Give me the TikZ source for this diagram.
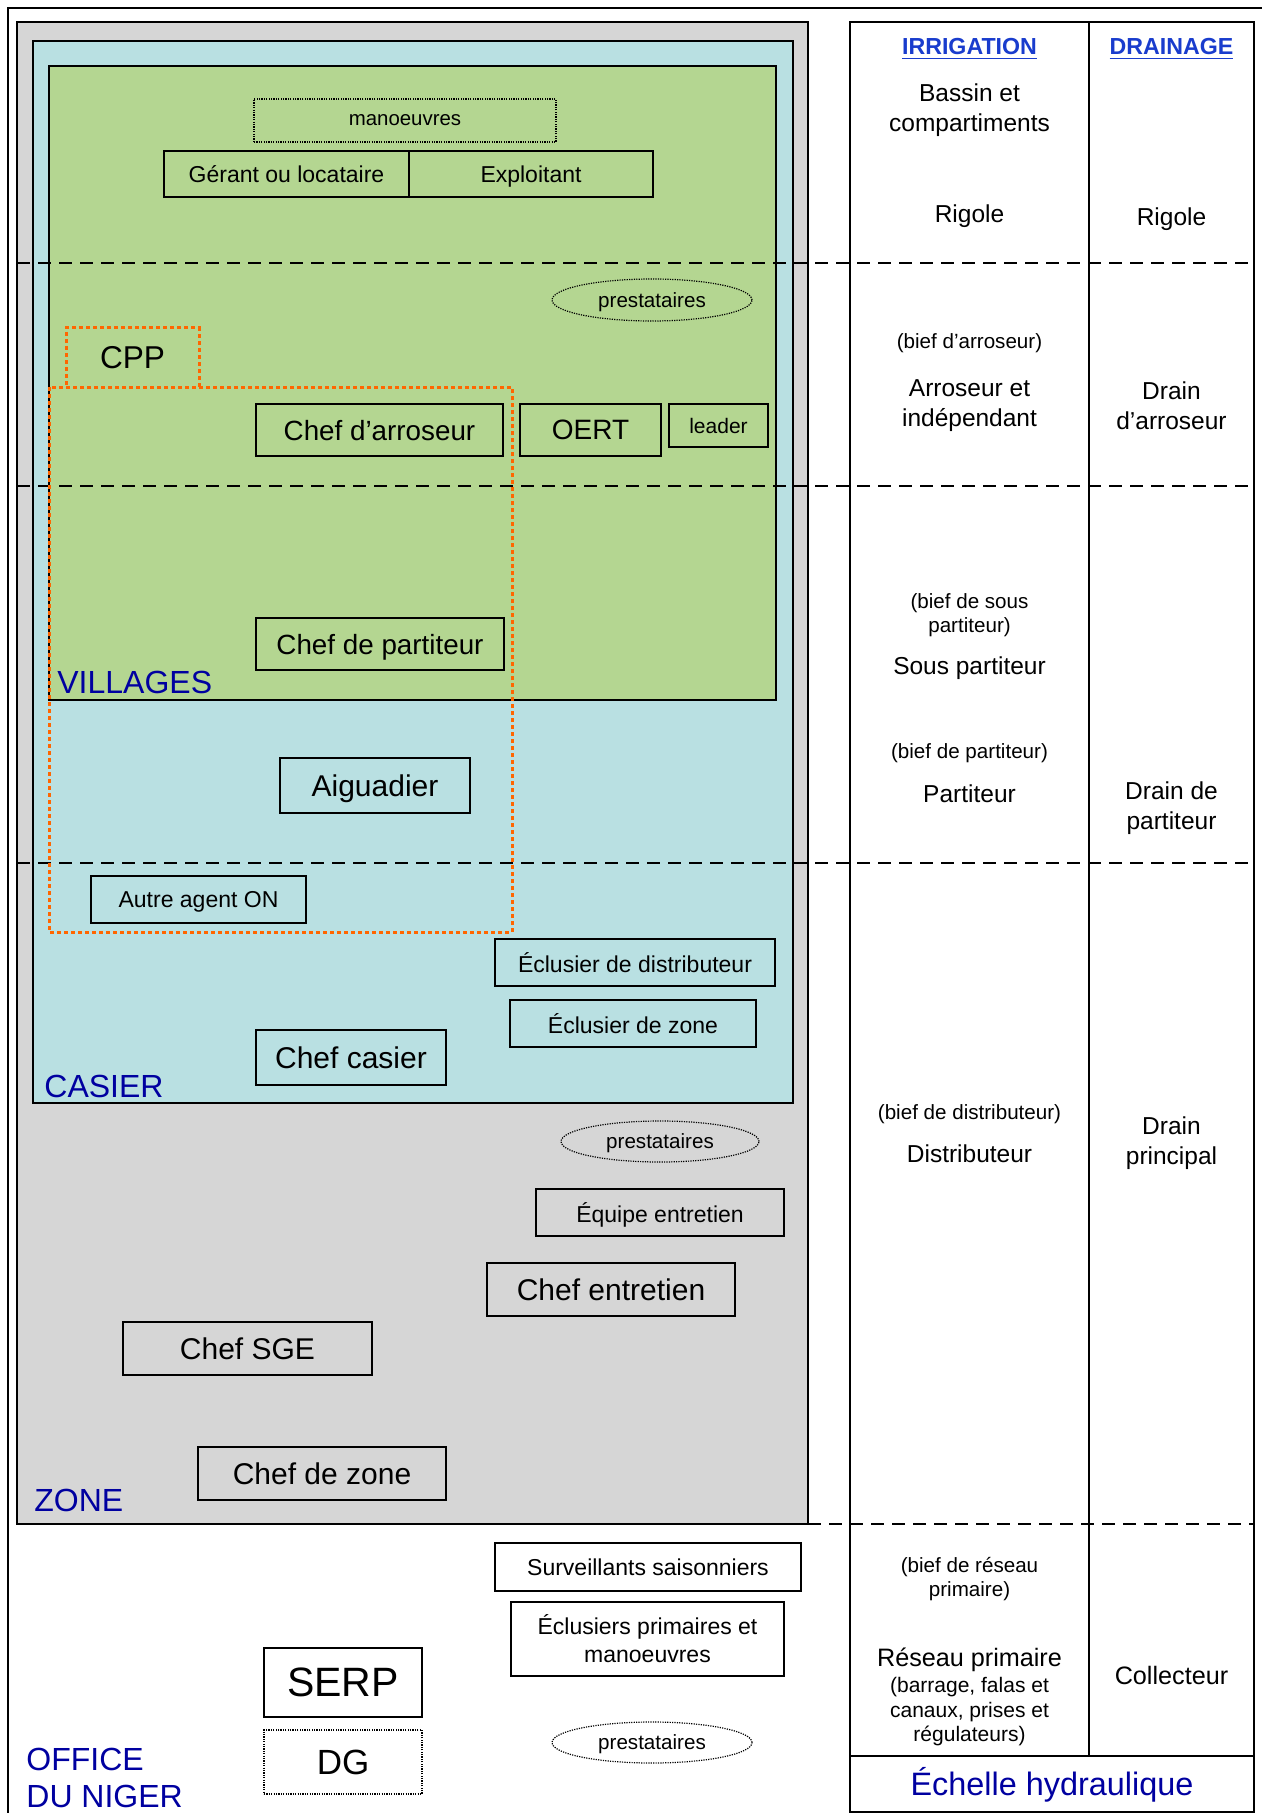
\documentclass[tikz,border=0pt]{standalone}
\usepackage{fontspec}
\setmainfont{Liberation Sans}
\usetikzlibrary{shapes.geometric}

\definecolor{zonegray}{RGB}{214,214,214}
\definecolor{casiercyan}{RGB}{185,224,226}
\definecolor{villagegreen}{RGB}{180,214,145}
\definecolor{cppor}{RGB}{255,102,0}
\definecolor{labelblue}{RGB}{0,0,160}
\definecolor{headblue}{RGB}{25,60,205}

\newcommand{\sz}[2]{\fontsize{#1pt}{#2pt}\selectfont}

\tikzset{
  dim/.style 2 args={minimum width=#1, minimum height=#2},
  box/.style={draw, line width=0.9pt, inner sep=1pt, text depth=0pt, align=center},
  dotbox/.style={draw, line width=0.6pt, dash pattern=on 0.6pt off 0.6pt, inner sep=1pt, text depth=0pt, align=center},
  oval/.style={ellipse, draw, line width=0.6pt, dash pattern=on 0.6pt off 0.6pt, inner sep=0pt, text depth=0pt, font=\sz{10.3}{12}},
  cppline/.style={draw=cppor, line width=1.5pt, dash pattern=on 2pt off 1.5pt},
  levelline/.style={line width=1.4pt, dash pattern=on 6.5pt off 4pt},
  zonelabel/.style={text=labelblue, inner sep=0pt, font=\sz{16}{18.5}},
  colhead/.style={anchor=base, inner sep=0pt, text=headblue, font=\bfseries\sz{11.6}{14}},
  coltext/.style={align=center, inner sep=0pt, font=\sz{12.25}{15}},
  colsmall/.style={align=center, inner sep=0pt, font=\sz{10.3}{12.3}},
}

\begin{document}
\begin{tikzpicture}[x=0.5pt,y=-0.5pt]
\useasboundingbox (0,0) rectangle (1262,1813);

\draw[line width=0.6pt] (8,1813) -- (8,8) -- (1262,8);

\filldraw[fill=zonegray, line width=0.9pt] (17,22) rectangle (808,1524);
\filldraw[fill=casiercyan, line width=0.9pt] (33,41) rectangle (793,1103);
\filldraw[fill=villagegreen, line width=0.9pt] (49,66) rectangle (776,700);

\draw[line width=1pt] (850,22) rectangle (1254,1812);
\draw[line width=1pt] (1089,22) -- (1089,1756);
\draw[line width=1pt] (850,1756) -- (1254,1756);

\draw[levelline] (17,263) -- (1254,263);
\draw[levelline] (17,486) -- (1254,486);
\draw[levelline] (17,863) -- (1254,863);
\draw[levelline] (808,1524) -- (1254,1524);

\node[cppline, dim={66.5pt}{29.5pt}, font=\sz{15.8}{18}] (cpp) at (132.5,357.5) {CPP};
\draw[cppline] (49,387) rectangle (512,932);

\node[dotbox, dim={151pt}{21.5pt}, font=\sz{10.2}{12}] (manoeuvres) at (405,120.5) {manoeuvres};
\node[box, dim={122.5pt}{23pt}, font=\sz{11.5}{14}] (gerant) at (286.5,174) {Gérant ou locataire};
\node[box, dim={122pt}{23pt}, font=\sz{11.5}{14}] (exploitant) at (531,174) {Exploitant};
\node[oval, dim={100pt}{21pt}] (prestvillage) at (652,300) {prestataires};
\node[box, dim={123.5pt}{26pt}, font=\sz{13.9}{16}] (chefarr) at (379.5,430) {Chef d’arroseur};
\node[box, dim={70.5pt}{26pt}, font=\sz{14}{16}] (oert) at (590.5,430) {OERT};
\node[box, dim={49.5pt}{21.5pt}, font=\sz{10.5}{12}] (leader) at (718.5,425.5) {leader};
\node[box, dim={124pt}{26pt}, font=\sz{13.9}{16}] (chefpart) at (380,644) {Chef de partiteur};
\node[zonelabel, anchor=base west] (villages) at (57,693) {VILLAGES};

\node[box, dim={95pt}{27.5pt}, font=\sz{15}{17}] (aiguadier) at (375,785.5) {Aiguadier};
\node[box, dim={107.5pt}{23.5pt}, font=\sz{11.5}{14}] (autre) at (198.5,899.5) {Autre agent ON};
\node[box, dim={140pt}{23.5pt}, font=\sz{11.5}{14}] (ecldist) at (635,962.5) {Éclusier de distributeur};
\node[box, dim={123pt}{23.5pt}, font=\sz{11.5}{14}] (eclzone) at (633,1023.5) {Éclusier de zone};
\node[box, dim={95pt}{27.5pt}, font=\sz{15}{17}] (chefcas) at (351,1057.5) {Chef casier};
\node[zonelabel, anchor=base west] (casier) at (44,1097) {CASIER};

\node[oval, dim={99pt}{20.5pt}] (prestzone) at (660,1141.5) {prestataires};
\node[box, dim={124pt}{23.5pt}, font=\sz{11.5}{14}] (equipe) at (660,1212.5) {Équipe entretien};
\node[box, dim={124pt}{26.5pt}, font=\sz{15}{17}] (chefent) at (611,1289.5) {Chef entretien};
\node[box, dim={124.5pt}{26.5pt}, font=\sz{15}{17}] (chefsge) at (247.5,1348.5) {Chef SGE};
\node[box, dim={124pt}{26.5pt}, font=\sz{15}{17}] (chefzone) at (322,1473.5) {Chef de zone};
\node[zonelabel, anchor=base west] (zone) at (34,1511) {ZONE};

\node[box, dim={153pt}{24pt}, font=\sz{11.5}{14}] (surv) at (648,1567) {Surveillants saisonniers};
\node[box, dim={136.5pt}{37pt}, font=\sz{11.5}{14}] (eclprim) at (647.5,1639) {Éclusiers primaires et\\manoeuvres};
\node[oval, dim={100pt}{20.5pt}] (prestoffice) at (652,1742.5) {prestataires};
\node[box, dim={79pt}{34.5pt}, font=\sz{20.5}{23}] (serp) at (343,1682.5) {SERP};
\node[dotbox, dim={79pt}{32pt}, font=\sz{17.5}{20}] (dg) at (343,1762) {DG};
\node[zonelabel, anchor=north west, align=left] (office) at (26,1748) {OFFICE\\DU NIGER};

\node[colhead] (irrhead) at (969.5,55) {\underline{IRRIGATION}};
\node[colhead] (drhead) at (1171.5,55) {\underline{DRAINAGE}};
\node[coltext] (bassin) at (969.5,110) {Bassin et\\compartiments};
\node[coltext, anchor=base] (rigirr) at (969.5,223) {Rigole};
\node[coltext, anchor=base] (rigdr) at (1171.5,226) {Rigole};
\node[colsmall] (biefarr) at (969.5,343.5) {(bief d’arroseur)};
\node[coltext] (arroseur) at (969.5,405.5) {Arroseur et\\indépendant};
\node[coltext] (drainarr) at (1171.5,405.5) {Drain\\d’arroseur};
\node[colsmall] (biefsous) at (969.5,615) {(bief de sous\\partiteur)};
\node[coltext] (souspart) at (969.5,668.5) {Sous partiteur};
\node[colsmall] (biefpart) at (969.5,753) {(bief de partiteur)};
\node[coltext] (partiteur) at (969.5,794) {Partiteur};
\node[coltext] (drainpart) at (1171.5,808) {Drain de\\partiteur};
\node[colsmall] (biefdist) at (969.5,1114) {(bief de distributeur)};
\node[coltext] (distrib) at (969.5,1154) {Distributeur};
\node[coltext] (drainpr) at (1171.5,1143.5) {Drain\\principal};
\node[colsmall] (biefres) at (969.5,1579) {(bief de réseau\\primaire)};
\node[coltext, font=\sz{12.6}{15}] (reseau) at (969.5,1660) {Réseau primaire};
\node[colsmall, font=\sz{10.5}{12.25}] (barrage) at (969.5,1712) {(barrage, falas et\\canaux, prises et\\régulateurs)};
\node[coltext, font=\sz{12.6}{15}] (collect) at (1171.5,1675) {Collecteur};
\node[inner sep=0pt, text=labelblue, font=\sz{16.2}{19}] (echelle) at (1052,1785) {Échelle hydraulique};
\end{tikzpicture}
\end{document}
